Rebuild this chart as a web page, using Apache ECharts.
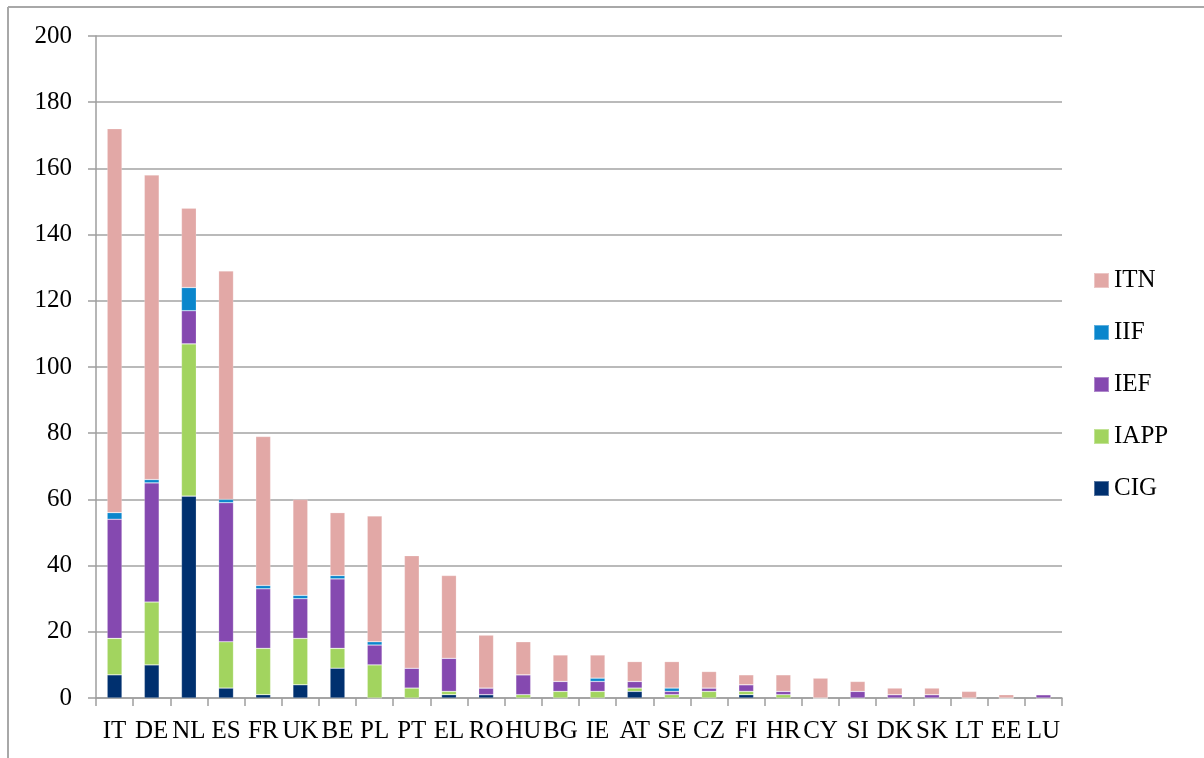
<!DOCTYPE html>
<html>
<head>
<meta charset="utf-8">
<script src="https://cdn.jsdelivr.net/npm/echarts@6/dist/echarts.min.js"></script>
<style>
html,body{margin:0;padding:0;background:#fff;}
#chart{width:1204px;height:758px;}
</style>
</head>
<body>
<div id="chart"></div>
<script>
const categories = ['IT','DE','NL','ES','FR','UK','BE','PL','PT','EL','RO','HU','BG','IE','AT','SE','CZ','FI','HR','CY','SI','DK','SK','LT','EE','LU'];
const CIG  = [7,10,61,3,1,4,9,0,0,1,1,0,0,0,2,0,0,1,0,0,0,0,0,0,0,0];
const IAPP = [11,19,46,14,14,14,6,10,3,1,0,1,2,2,1,1,2,1,1,0,0,0,0,0,0,0];
const IEF  = [36,36,10,42,18,12,21,6,6,10,2,6,3,3,2,1,1,2,1,0,2,1,1,0,0,1];
const IIF  = [2,1,7,1,1,1,1,1,0,0,0,0,0,1,0,1,0,0,0,0,0,0,0,0,0,0];
const ITN  = [116,92,24,69,45,29,19,38,34,25,16,10,8,7,6,8,5,3,5,6,3,2,2,2,1,0];
const yTicks = {min:0, max:200, interval:20};

const FONT = '"Liberation Serif", "Times New Roman", serif';
const seriesDefs = [
  {name:'CIG', data:CIG, color:'#00306F'},
  {name:'IAPP', data:IAPP, color:'#A2D45F'},
  {name:'IEF', data:IEF, color:'#8549B0'},
  {name:'IIF', data:IIF, color:'#0A86CC'},
  {name:'ITN', data:ITN, color:'#E2A8A6'}
];

const chart = echarts.init(document.getElementById('chart'), null, {renderer:'canvas'});
chart.setOption({
  animation:false,
  backgroundColor:'#ffffff',
  grid:{left:96, right:142, top:36, bottom:60, containLabel:false},
  legend:{
    orient:'vertical',
    left:1093, top:268,
    padding:0,
    itemWidth:15, itemHeight:15, itemGap:27,
    icon:'rect',
    data:['ITN','IIF','IEF','IAPP','CIG'],
    textStyle:{fontFamily:FONT, fontSize:25, color:'#000', lineHeight:25},
    selectedMode:false
  },
  xAxis:{
    type:'category',
    data:categories,
    boundaryGap:true,
    axisLine:{lineStyle:{color:'#9e9e9e', width:1.5}},
    axisTick:{show:true, interval:0, length:8, lineStyle:{color:'#9e9e9e', width:1.5}},
    axisLabel:{interval:0, margin:21, fontFamily:FONT, fontSize:25, color:'#000'},
    splitLine:{show:false}
  },
  yAxis:{
    type:'value',
    min:yTicks.min, max:yTicks.max, interval:yTicks.interval,
    axisLine:{show:true, lineStyle:{color:'#9e9e9e', width:1.5}},
    axisTick:{show:true, length:8, lineStyle:{color:'#9e9e9e', width:1.5}},
    axisLabel:{margin:24, fontFamily:FONT, fontSize:25, color:'#000'},
    splitLine:{show:true, lineStyle:{color:'#a3a3a3', width:1.5}}
  },
  series: seriesDefs.map(s => ({
    name:s.name,
    type:'bar',
    stack:'total',
    data:s.data,
    barWidth:'40%',
    itemStyle:{color:s.color, borderColor:'rgba(255,255,255,0.35)', borderWidth:0.6},
    emphasis:{disabled:true}
  })),
  graphic:[
    {type:'line', shape:{x1:8, y1:7, x2:1204, y2:7}, style:{stroke:'#a8a8a8', lineWidth:2}, silent:true},
    {type:'line', shape:{x1:8, y1:7, x2:8, y2:758}, style:{stroke:'#a8a8a8', lineWidth:2}, silent:true}
  ]
});
</script>
</body>
</html>
